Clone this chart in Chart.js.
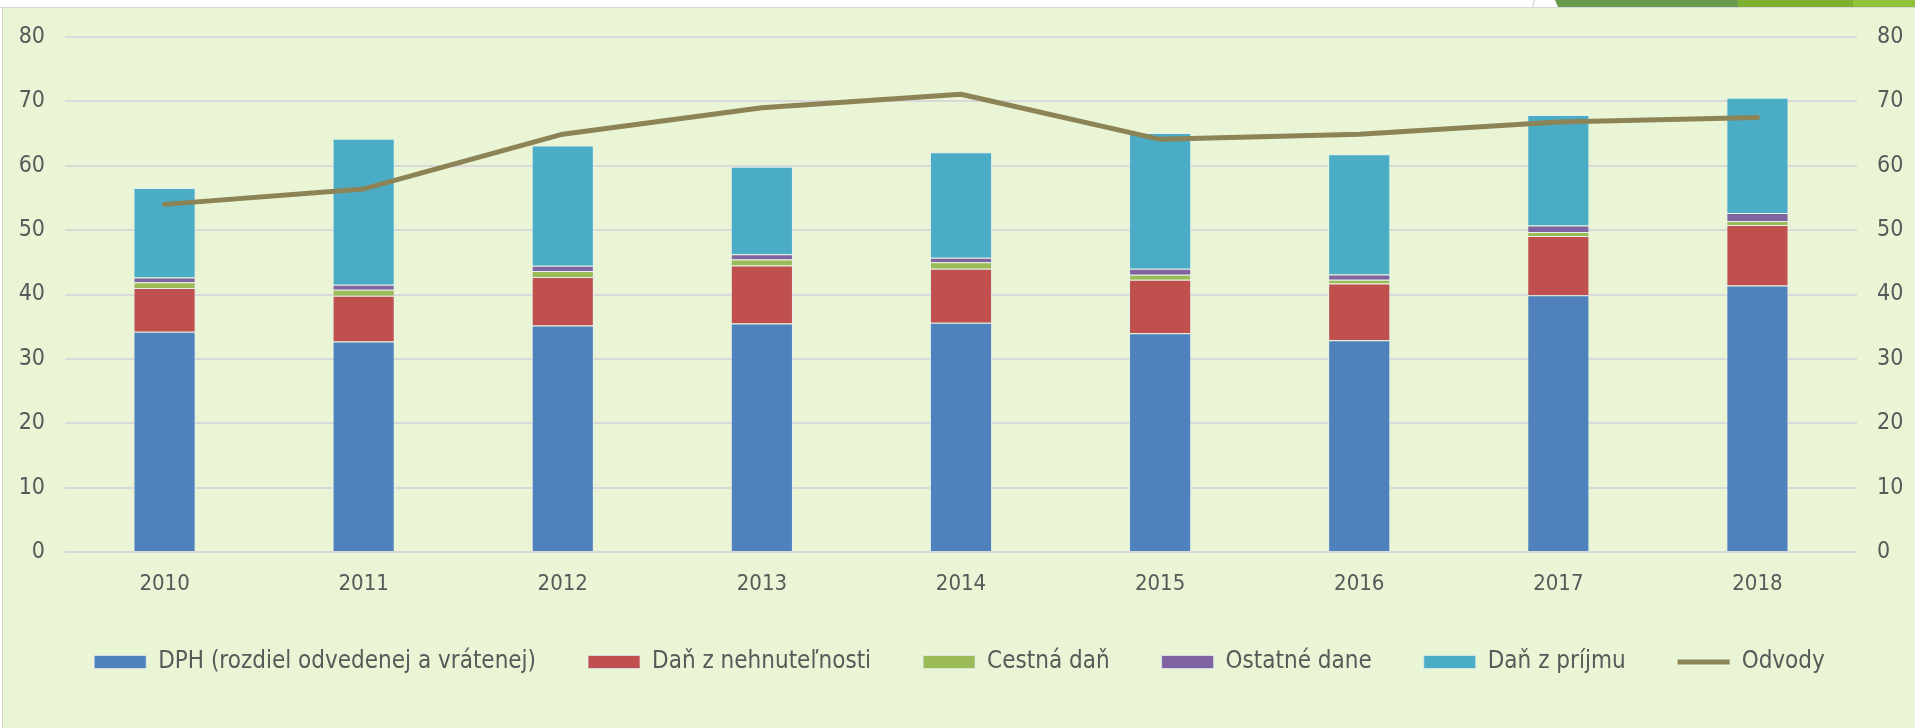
<!DOCTYPE html>
<html>
<head>
<meta charset="utf-8">
<script src="https://cdn.jsdelivr.net/npm/chart.js@4/dist/chart.umd.min.js"></script>
<style>
  html, body { margin: 0; padding: 0; background: #ffffff; }
  body { width: 1915px; height: 728px; position: relative; overflow: hidden; }
  #topline { position: absolute; left: 0; top: 7px; width: 1915px; height: 1px; background: #d9d9d9; }
  #deco { position: absolute; top: 0; left: 1555px; width: 360px; height: 7px;
    background: linear-gradient(to right, #6a9a4c 0, #6a9a4c 183px, #7faf2f 183px, #7faf2f 298px, #92c13a 298px);
    clip-path: polygon(0 0, 100% 0, 100% 100%, 3px 100%); }
  #slash { position: absolute; top: 0; left: 1533px; width: 1px; height: 7px; background: #c8c8c8; transform: skewX(-12deg); }
  #box { position: absolute; left: 2px; top: 8px; width: 1913px; height: 720px; background: #e9f5d4; overflow: hidden;
    border-left: 1px solid #d4d4d4; }
  #wrap { position: absolute; left: 0; top: 0; width: 1913px; height: 676px; }
</style>
</head>
<body>
<div id="topline"></div>
<div id="slash"></div>
<div id="deco"></div>
<div id="box"><div id="wrap"><canvas id="myChart"></canvas></div></div>
<script>
const years = ['2010', '2011', '2012', '2013', '2014', '2015', '2016', '2017', '2018'];
const dph = [34.2, 32.7, 35.2, 35.5, 35.6, 34.0, 32.9, 39.9, 41.4];
const nehnutelnost = [6.8, 7.1, 7.5, 9.0, 8.4, 8.3, 8.8, 9.2, 9.4];
const cestna = [0.9, 0.95, 0.95, 0.95, 1.0, 0.75, 0.6, 0.6, 0.6];
const ostatne = [0.75, 0.75, 0.8, 0.8, 0.7, 0.95, 0.8, 1.0, 1.25];
const prijem = [13.9, 22.7, 18.7, 13.6, 16.4, 21.1, 18.7, 17.2, 17.9];
const odvody = [54.0, 56.4, 64.9, 69.0, 71.1, 64.1, 64.9, 66.8, 67.5];
const yTicks = [0, 10, 20, 30, 40, 50, 60, 70, 80];

const fontFamily = "'DejaVu Sans Condensed', 'DejaVu Sans', sans-serif";
const textColor = '#595959';

function bar(label, data, color) {
    return {
        type: 'bar',
        label: label,
        data: data,
        backgroundColor: color,
        borderColor: 'rgba(225, 238, 245, 0.7)',
        borderWidth: 1,
        pointStyle: 'rect',
        yAxisID: 'y',
        order: 1
    };
}

// y axes: fixed width, no extra top padding (layout padding sets the top)
function fitY(width) {
    return (scale) => {
        scale.width = width;
        scale.paddingTop = 0;
    };
}

new Chart(document.getElementById('myChart').getContext('2d'), {
    data: {
        labels: years,
        datasets: [
            bar('DPH (rozdiel odvedenej a vrátenej)', dph, '#4f81bd'),
            bar('Daň z nehnuteľnosti', nehnutelnost, '#c0504d'),
            bar('Cestná daň', cestna, '#9bbb59'),
            bar('Ostatné dane', ostatne, '#8064a2'),
            bar('Daň z príjmu', prijem, '#4bacc6'),
            {
                type: 'line',
                label: 'Odvody',
                data: odvody,
                borderColor: '#8c8456',
                backgroundColor: '#8c8456',
                borderWidth: 5,
                borderCapStyle: 'round',
                borderJoinStyle: 'round',
                pointRadius: 0,
                pointHoverRadius: 0,
                pointStyle: 'line',
                tension: 0,
                yAxisID: 'y1',
                order: 0
            }
        ]
    },
    options: {
        responsive: true,
        maintainAspectRatio: false,
        animation: false,
        layout: { padding: { top: 29, left: 0, right: 0, bottom: 0 } },
        datasets: {
            bar: { categoryPercentage: 1, barPercentage: 0.312 }
        },
        scales: {
            x: {
                stacked: true,
                grid: { display: false, drawTicks: false },
                border: { display: false },
                ticks: { color: textColor, font: { family: fontFamily, size: 22 }, padding: 19, maxRotation: 0 },
                afterFit: (scale) => { scale.height = 46; }
            },
            y: {
                stacked: true,
                position: 'left',
                min: 0,
                max: 80,
                afterBuildTicks: (scale) => { scale.ticks = yTicks.map(v => ({ value: v })); },
                grid: { color: '#d9d9d9', lineWidth: 2, drawTicks: false },
                border: { display: false },
                ticks: { color: textColor, font: { family: fontFamily, size: 23 }, padding: 20 },
                afterFit: fitY(62)
            },
            y1: {
                position: 'right',
                min: 0,
                max: 80,
                afterBuildTicks: (scale) => { scale.ticks = yTicks.map(v => ({ value: v })); },
                grid: { display: false, drawTicks: false },
                border: { display: false },
                ticks: { color: textColor, font: { family: fontFamily, size: 23 }, padding: 20 },
                afterFit: fitY(59)
            }
        },
        plugins: {
            tooltip: { enabled: false },
            legend: {
                position: 'bottom',
                labels: {
                    color: textColor,
                    font: { family: fontFamily, size: 24 },
                    usePointStyle: true,
                    pointStyleWidth: 52,
                    boxHeight: 13,
                    padding: 52,
                    sort: (a, b) => a.datasetIndex - b.datasetIndex
                }
            }
        }
    }
});
</script>
</body>
</html>
